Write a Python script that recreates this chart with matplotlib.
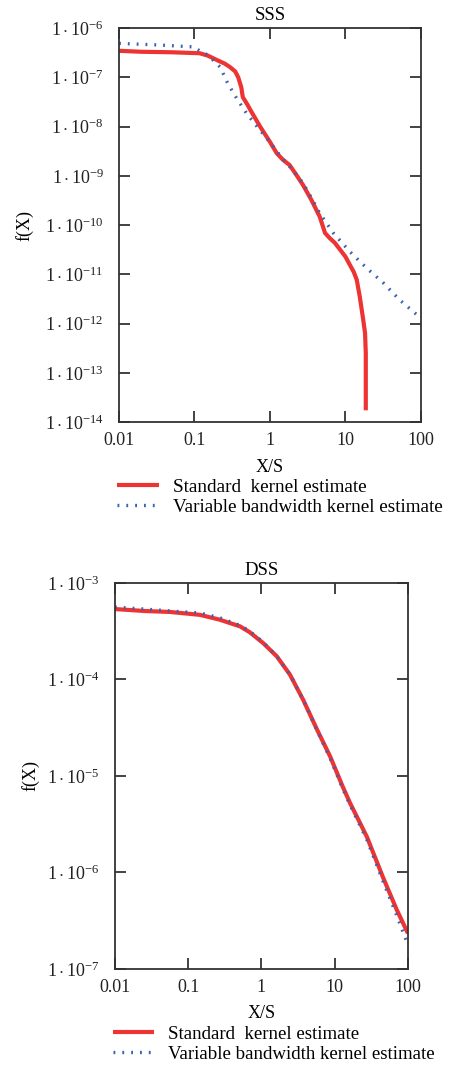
import numpy as np
import matplotlib
matplotlib.use("Agg")
import matplotlib.pyplot as plt

plt.rcParams['font.family'] = ['Liberation Serif', 'DejaVu Serif']
plt.rcParams['mathtext.fontset'] = 'custom'
plt.rcParams['mathtext.rm'] = 'Liberation Serif'
plt.rcParams['mathtext.it'] = 'Liberation Serif:italic'

# ---- SSS panel data (log10 values) ----
sss_std_logx = [-2.0, -1.7, -1.3, -0.93, -0.82, -0.70, -0.60, -0.53, -0.46, -0.42, -0.38, -0.36, -0.30,
                -0.26, -0.13, 0.0, 0.09, 0.17, 0.26, 0.35, 0.44, 0.55, 0.66, 0.73, 0.79, 0.86,
                0.93, 1.00, 1.06, 1.11, 1.15, 1.19, 1.23, 1.26, 1.27, 1.27]
sss_std_logy = [-6.46, -6.48, -6.49, -6.51, -6.56, -6.65, -6.72, -6.79, -6.88, -7.0, -7.2, -7.4, -7.55,
                -7.66, -8.0, -8.31, -8.54, -8.67, -8.78, -8.98, -9.19, -9.49, -9.83, -10.16, -10.26, -10.36,
                -10.5, -10.64, -10.81, -10.95, -11.11, -11.45, -11.86, -12.19, -12.6, -13.76]
sss_var_logx = [-2.0, -1.5, -1.02, -0.93, -0.82, -0.66, -0.56, -0.44, -0.31, -0.17, -0.04, 0.13,
                0.30, 0.44, 0.55, 0.66, 0.84, 1.06, 1.28, 1.50, 1.72, 2.0]
sss_var_logy = [-6.31, -6.34, -6.38, -6.46, -6.55, -6.79, -7.12, -7.43, -7.73, -8.0, -8.24, -8.58,
                -8.88, -9.15, -9.45, -9.76, -10.16, -10.54, -10.87, -11.17, -11.52, -11.89]

# ---- DSS panel data ----
dss_std_logx = [-2.0, -1.6, -1.25, -0.84, -0.57, -0.29, -0.16, 0.02, 0.21, 0.39, 0.57, 0.76, 0.94,
                1.11, 1.21, 1.44, 1.66, 1.85, 2.0]
dss_std_logy = [-3.27, -3.29, -3.30, -3.33, -3.38, -3.45, -3.51, -3.62, -3.76, -3.95, -4.21, -4.52, -4.80,
                -5.11, -5.28, -5.63, -6.05, -6.39, -6.63]
dss_var_logx = [-2.0, -1.6, -1.25, -0.84, -0.57, -0.29, -0.16, 0.02, 0.21, 0.39, 0.57, 0.76, 0.94,
                1.11, 1.21, 1.44, 1.66, 1.85, 2.0]
dss_var_logy = [-3.25, -3.27, -3.29, -3.31, -3.36, -3.44, -3.50, -3.61, -3.76, -3.95, -4.21, -4.53, -4.82,
                -5.13, -5.30, -5.66, -6.09, -6.45, -6.75]

x_ticks = [0.01, 0.1, 1, 10, 100]
x_ticklabels = ['0.01', '0.1', '1', '10', '100']
labels = ['Standard  kernel estimate', 'Variable bandwidth kernel estimate']
titles = ['SSS', 'DSS']

RED = '#ee3333'
BLUE = '#3a62b0'

fig = plt.figure(figsize=(4.56, 10.66), dpi=100)

def panel(rect, title, sx, sy, vx, vy, ymin_exp, ymax_exp, legend_xy, ylab_x, legsize):
    ax = fig.add_axes(rect)
    ax.plot(10 ** np.array(sx), 10 ** np.array(sy), color=RED, lw=3.0, solid_capstyle='butt', label=labels[0])
    ax.plot(10 ** np.array(vx), 10 ** np.array(vy), color=BLUE, lw=2.4, linestyle=(0, (0.55, 2.1)),
            dash_capstyle='butt', label=labels[1])
    ax.set_xscale('log')
    ax.set_yscale('log')
    ax.set_xlim(0.01, 100)
    ax.set_ylim(10.0 ** ymin_exp, 10.0 ** ymax_exp)
    ax.set_xticks(x_ticks)
    ax.set_xticklabels(x_ticklabels)
    ax.xaxis.set_minor_locator(matplotlib.ticker.NullLocator())
    ax.yaxis.set_minor_locator(matplotlib.ticker.NullLocator())
    exps = list(range(ymin_exp, ymax_exp + 1))
    ax.set_yticks([10.0 ** e for e in exps])
    ax.set_yticklabels([r'$1\cdot10^{%d}$' % e for e in exps])
    ax.tick_params(direction='in', length=8, width=1.2, top=True, right=True, labelsize=13,
                   colors='#222222')
    ax.tick_params(axis='y', pad=11)
    ax.tick_params(axis='x', pad=7)
    for s in ax.spines.values():
        s.set_linewidth(1.3)
        s.set_color('#333333')
    ax.set_title(title, fontsize=13.5, pad=6)
    ax.set_xlabel('X/S', fontsize=13, labelpad=7)
    ax.set_ylabel('f(X)', fontsize=13)
    ax.yaxis.set_label_coords(ylab_x, 0.5)
    ax.legend(loc='center left', bbox_to_anchor=legend_xy, bbox_transform=fig.transFigure,
              frameon=False, fontsize=legsize, handlelength=2.2, handletextpad=0.75,
              labelspacing=0.15, borderpad=0, borderaxespad=0)
    return ax

panel([0.261, 0.604, 0.662, 0.3696], titles[0], sss_std_logx, sss_std_logy,
      sss_var_logx, sss_var_logy, -14, -6, (0.256, 1 - 497 / 1066), -0.285, 13.8)
panel([0.252, 0.091, 0.6425, 0.3621], titles[1], dss_std_logx, dss_std_logy,
      dss_var_logx, dss_var_logy, -7, -3, (0.247, 1 - 1044 / 1066), -0.256, 13.6)

fig.savefig('out.png', dpi=100)
